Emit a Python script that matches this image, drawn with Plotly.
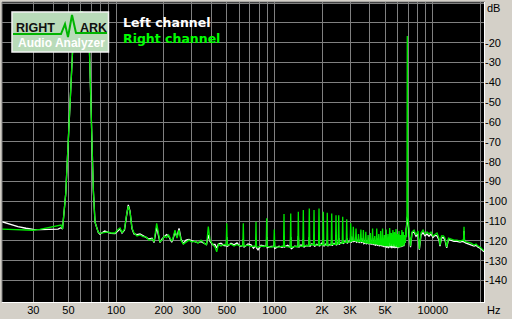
import math
import plotly.graph_objects as go

# ---------------- data ----------------
# low band: 19 Hz .. 480 Hz
freq_low = [
    19.0, 21.0, 24.0, 27.0, 30.0, 33.0, 36.0, 40.0, 43.0, 44.9,
    45.9, 48.1, 54.5, 60.0, 66.9, 71.8, 73.6, 77.2, 79.1, 84.7,
    88.9, 92.9, 98.4, 102.8, 105.8, 109.0, 113.0, 116.3, 119.4, 122.4,
    126.0, 129.7, 135.5, 141.5, 147.8, 154.5, 161.3, 168.6, 173.5, 180.4,
    185.3, 189.3, 194.9, 202.1, 208.1, 214.2, 224.4, 228.7, 235.4, 242.4,
    249.6, 256.9, 265.6, 276.3, 288.6, 301.5, 314.9, 328.9, 343.6, 358.9,
    372.2, 382.1, 391.5, 406.0, 421.1, 431.6, 443.1, 459.5, 480.0,
]
right_low = [
    -114.0, -114.2, -114.5, -114.6, -114.6, -114.2, -113.6, -112.9, -112.4, -112.0,
    -114.0, -96.0, -5.5, -4.5, -5.5, -94.0, -110.5, -115.7, -116.2, -115.5,
    -115.4, -116.0, -116.0, -114.2, -113.5, -115.8, -114.0, -107.0, -102.4, -105.4,
    -113.5, -116.0, -117.5, -117.0, -117.8, -118.0, -119.6, -119.0, -120.3, -111.1,
    -117.0, -120.4, -119.6, -117.5, -118.3, -117.0, -120.1, -118.6, -114.5, -118.6,
    -114.5, -119.6, -121.6, -120.6, -119.6, -120.6, -120.1, -121.1, -119.6, -121.1,
    -122.1, -112.8, -119.6, -121.6, -123.1, -125.5, -121.6, -122.6, -121.8,
]
left_low = [
    -110.3, -111.5, -112.8, -113.6, -114.2, -114.3, -114.3, -114.2, -114.0, -113.3,
    -114.0, -96.0, -5.5, -4.5, -5.5, -94.0, -110.5, -115.7, -116.6, -115.0,
    -115.8, -116.2, -116.3, -114.8, -114.0, -116.0, -114.5, -107.5, -101.8, -105.0,
    -113.8, -116.5, -116.8, -116.5, -117.3, -117.8, -119.0, -118.6, -120.8, -113.0,
    -118.0, -120.8, -119.0, -117.8, -116.8, -117.5, -120.6, -119.0, -115.5, -118.0,
    -113.7, -119.0, -121.3, -119.6, -119.2, -120.0, -120.6, -120.8, -120.4, -121.0,
    -121.8, -117.0, -120.3, -121.8, -121.8, -123.6, -121.5, -121.2, -122.3,
]

# mid band: harmonic needles 0.5 kHz .. 3 kHz
freq_mid = [
    495.8, 499.3, 502.8, 531.5, 555.2, 580.0, 605.8, 630.9, 635.3, 639.7,
    680.3, 710.6, 736.9, 758.9, 764.2, 769.5, 786.7, 821.8, 858.4, 886.6,
    892.8, 899.0, 950.3, 990.1, 997.0, 1004, 1068, 1115, 1140, 1148,
    1156, 1210, 1257, 1266, 1275, 1340, 1404, 1414, 1424, 1470,
    1509, 1520, 1531, 1590, 1646, 1658, 1670, 1720, 1764, 1776,
    1788, 1850, 1897, 1910, 1923, 1980, 2019, 2033, 2047, 2100,
    2139, 2154, 2169, 2230, 2281, 2297, 2313, 2375, 2428, 2445,
    2462, 2500, 2525, 2543, 2561, 2620, 2676, 2695, 2714, 2780,
    2837, 2857, 2877, 2950,
]
right_mid = [
    -122.0, -111.1, -122.2, -121.6, -122.6, -121.8, -122.6, -122.3, -111.1, -122.6,
    -122.1, -122.8, -122.6, -122.5, -110.3, -123.0, -123.1, -122.6, -122.8, -122.6,
    -108.6, -122.8, -123.1, -122.8, -114.2, -122.9, -123.1, -122.6, -122.8, -106.4,
    -122.7, -123.0, -123.2, -106.1, -123.3, -122.8, -122.9, -105.3, -122.6, -122.6,
    -122.8, -104.4, -122.5, -122.3, -122.4, -103.6, -122.0, -121.8, -122.1, -104.4,
    -122.0, -122.1, -122.2, -103.6, -121.9, -121.8, -121.9, -105.3, -122.0, -122.1,
    -122.2, -105.8, -122.0, -122.1, -121.9, -106.1, -121.7, -121.6, -121.7, -107.0,
    -121.6, -121.6, -121.5, -107.0, -121.3, -121.1, -121.0, -107.8, -120.9, -120.6,
    -120.7, -109.1, -120.6, -120.6,
]
left_mid = [
    -122.4, -118.0, -122.8, -121.2, -122.0, -121.0, -122.8, -122.3, -119.0, -123.2,
    -121.5, -122.0, -123.7, -122.5, -120.0, -123.5, -124.5, -122.2, -122.5, -122.6,
    -118.0, -123.4, -122.7, -122.8, -119.6, -123.8, -122.6, -123.2, -122.8, -118.0,
    -123.0, -122.2, -123.2, -118.0, -124.0, -122.6, -122.9, -117.5, -123.2, -122.0,
    -122.8, -119.0, -123.2, -122.3, -122.4, -118.0, -122.8, -121.5, -122.1, -119.0,
    -122.8, -121.7, -122.2, -117.8, -122.6, -121.2, -121.9, -119.0, -122.7, -121.6,
    -122.2, -119.5, -122.6, -121.8, -121.9, -119.5, -122.4, -121.2, -121.7, -119.6,
    -122.2, -121.2, -121.5, -118.6, -121.8, -120.8, -121.0, -119.6, -121.4, -120.4,
    -120.7, -118.6, -121.2, -120.2,
]

# comb band: 3 kHz .. 7.2 kHz
freq_comb = [
    3007, 3028, 3049, 3123, 3145, 3167, 3247, 3270, 3293, 3366,
    3390, 3414, 3485, 3510, 3535, 3615, 3640, 3665, 3744, 3770,
    3796, 3873, 3900, 3927, 4002, 4030, 4058, 4131, 4160, 4189,
    4260, 4290, 4320, 4389, 4420, 4451, 4518, 4550, 4582, 4647,
    4680, 4713, 4776, 4810, 4844, 4905, 4940, 4975, 5035, 5070,
    5105, 5164, 5200, 5236, 5293, 5330, 5367, 5422, 5460, 5498,
    5551, 5590, 5629, 5680, 5720, 5760, 5809, 5850, 5891, 5938,
    5980, 6022, 6067, 6110, 6153, 6196, 6240, 6284, 6325, 6370,
    6415, 6455, 6500, 6545, 6584, 6630, 6676, 6713, 6760, 6807,
    6855, 6893, 6931, 6994, 7096, 7222,
]
right_comb = [
    -120.3, -111.1, -120.2, -119.8, -112.8, -119.7, -119.9, -113.7, -120.0, -120.2,
    -116.5, -120.3, -120.1, -114.2, -120.2, -120.4, -114.5, -120.5, -120.8, -115.4,
    -120.9, -121.0, -117.0, -121.1, -121.0, -116.0, -121.1, -121.2, -113.7, -121.3,
    -121.4, -117.5, -121.5, -121.5, -113.7, -121.6, -121.7, -116.5, -121.8, -121.8,
    -115.0, -121.9, -122.0, -113.7, -122.1, -122.2, -117.0, -122.3, -122.3, -114.2,
    -122.4, -122.4, -116.5, -122.5, -122.5, -113.5, -122.6, -122.6, -116.0, -122.7,
    -122.7, -114.5, -122.8, -122.8, -115.5, -122.9, -122.9, -114.0, -123.0, -123.0,
    -116.5, -123.0, -122.9, -115.0, -122.8, -122.7, -117.0, -122.6, -122.5, -114.5,
    -122.4, -122.3, -115.5, -122.2, -122.0, -117.0, -121.0, -120.0, -113.5, -118.0,
    -106.0, -16.6, -105.4, -113.0, -116.0, -122.6,
]
left_comb = [
    -120.3, -117.6, -120.8, -119.8, -117.8, -120.3, -119.9, -118.3, -120.6, -120.2,
    -119.0, -121.0, -120.1, -118.5, -120.8, -120.4, -118.6, -121.3, -120.8, -119.6,
    -121.6, -121.0, -120.0, -121.6, -121.0, -119.5, -121.8, -121.2, -118.6, -122.0,
    -121.4, -120.2, -122.4, -121.5, -118.6, -122.4, -121.7, -120.0, -122.6, -121.8,
    -119.5, -122.6, -122.0, -118.5, -123.0, -122.2, -120.5, -123.2, -122.3, -119.6,
    -123.4, -122.4, -120.5, -123.6, -122.5, -119.5, -123.3, -122.6, -120.5, -123.6,
    -122.7, -120.0, -123.4, -122.8, -120.4, -123.6, -122.9, -119.5, -123.4, -123.0,
    -120.6, -123.6, -122.9, -120.5, -123.1, -122.7, -120.8, -123.1, -122.5, -120.0,
    -122.8, -122.3, -119.5, -122.6, -122.0, -119.0, -121.0, -118.5, -113.0, -113.5,
    -110.0, -107.8, -110.0, -113.0, -118.0, -123.2,
]

# high band: 7.4 kHz .. 21 kHz
freq_high = [
    7380, 7599, 7824, 8054, 8208, 8414, 8661, 8917, 9178, 9449,
    9727, 10014, 10310, 10614, 10926, 11086, 11331, 11665, 11922, 12219,
    12543, 13008, 13587, 14193, 14831, 15380, 15600, 15718, 15840, 16065,
    16661, 17400, 18180, 18715, 19266, 19832, 20417, 21017,
]
right_high = [
    -115.5, -114.5, -117.0, -115.0, -124.1, -116.0, -114.5, -116.5, -115.5, -116.5,
    -115.5, -117.5, -116.5, -116.0, -118.6, -122.1, -117.5, -117.5, -118.6, -123.1,
    -118.6, -119.1, -119.6, -119.6, -120.1, -119.6, -119.8, -112.8, -120.2, -120.4,
    -120.6, -121.1, -122.1, -121.6, -122.6, -123.1, -124.1, -125.0,
]
left_high = [
    -116.0, -115.5, -117.6, -116.4, -124.4, -117.0, -115.8, -117.4, -116.5, -117.6,
    -116.5, -118.2, -117.2, -117.4, -119.6, -122.6, -118.4, -118.4, -119.6, -123.5,
    -119.2, -119.8, -120.2, -120.2, -120.6, -120.2, -120.4, -115.0, -120.6, -121.0,
    -121.4, -121.8, -122.6, -122.2, -123.2, -123.6, -124.5, -125.4,
]

x_tick_vals = [30, 40, 50, 60, 70, 80, 90, 100, 200, 300, 400, 500, 600, 700, 800, 900,
               1000, 2000, 3000, 4000, 5000, 6000, 7000, 8000, 9000, 10000, 20000]
x_tick_text = ["30", "", "50", "", "", "", "", "100", "200", "300", "", "500", "", "", "", "",
               "1000", "2K", "3K", "", "5K", "", "", "", "", "10000", ""]

y_tick_vals = [0, -10, -20, -30, -40, -50, -60, -70, -80, -90, -100, -110, -120, -130, -140]
y_tick_text = ["", "", "-20", "-30", "-40", "-50", "-60", "-70", "-80", "-90", "-100",
               "-110", "-120", "-130", "-140"]

series_names = ["Left channel", "Right channel"]

freq_hz = freq_low + freq_mid + freq_comb + freq_high
left_db = left_low + left_mid + left_comb + left_high
right_db = right_low + right_mid + right_comb + right_high

# ---------------- layout geometry ----------------
W, H = 512, 319
ML, MR, MT, MB = 2, 28, 2, 17
PW, PH = W - ML - MR, H - MT - MB


def px(x):
    return (x - ML) / PW


def py(y):
    return (H - MB - y) / PH


BG = "#D4D0C8"
GRID = "#808080"
GREEN = "#00E800"

fig = go.Figure()
fig.add_trace(go.Scatter(x=freq_hz, y=left_db, mode="lines", name=series_names[0],
                         line=dict(color="#FFFFFF", width=1.3), showlegend=False))
fig.add_trace(go.Scatter(x=freq_hz, y=right_db, mode="lines", name=series_names[1],
                         line=dict(color=GREEN, width=1.3), showlegend=False))

fig.update_layout(
    width=W, height=H,
    margin=dict(l=ML, r=MR, t=MT, b=MB, pad=0),
    paper_bgcolor=BG, plot_bgcolor="#000000",
    font=dict(family="Liberation Sans", size=11, color="#000000"),
    xaxis=dict(type="log", range=[math.log10(19.04), math.log10(21017)],
               tickmode="array", tickvals=x_tick_vals, ticktext=x_tick_text,
               showgrid=True, gridcolor=GRID, gridwidth=1, zeroline=False,
               showline=False, ticks="", tickfont=dict(size=11, color="#000000")),
    yaxis=dict(range=[-150.8, 0.54], side="right",
               tickmode="array", tickvals=y_tick_vals, ticktext=y_tick_text,
               showgrid=True, gridcolor=GRID, gridwidth=1, zeroline=False,
               showline=False, ticks="", tickfont=dict(size=11, color="#000000")),
)

shapes = []
# sunken frame
shapes.append(dict(type="line", xref="paper", yref="paper", x0=px(2), x1=px(2), y0=py(2), y1=py(302),
                   line=dict(color="#808080", width=1)))
shapes.append(dict(type="line", xref="paper", yref="paper", x0=px(2), x1=px(485), y0=py(2), y1=py(2),
                   line=dict(color="#808080", width=1)))
shapes.append(dict(type="line", xref="paper", yref="paper", x0=px(484.5), x1=px(484.5), y0=py(2), y1=py(303),
                   line=dict(color="#FFFFFF", width=1)))
shapes.append(dict(type="line", xref="paper", yref="paper", x0=px(2), x1=px(485), y0=py(302.5), y1=py(302.5),
                   line=dict(color="#FFFFFF", width=1)))
# logo box
shapes.append(dict(type="rect", xref="paper", yref="paper", layer="above",
                   x0=px(12), x1=px(108.5), y0=py(12), y1=py(52),
                   fillcolor="#B9DBB9", line=dict(color="#F4F4F4", width=1.5)))
zig = [(13, 34), (61, 34), (65, 24), (68, 37), (72, 15), (76, 33), (107, 33)]
path = "M " + " L ".join(f"{px(a):.5f},{py(b):.5f}" for a, b in zig)
shapes.append(dict(type="path", xref="paper", yref="paper", layer="above", path=path,
                   line=dict(color="#00B400", width=2)))
fig.update_layout(shapes=shapes)

ann = []


def text(x, y, s, color, size, family="Liberation Sans", xanchor="left", bold=False):
    t = f"<b>{s}</b>" if bold else s
    ann.append(dict(xref="paper", yref="paper", x=px(x), y=py(y), text=t, showarrow=False,
                    xanchor=xanchor, yanchor="middle", font=dict(color=color, size=size, family=family),
                    borderpad=0))


text(15, 28, "RIGHT", "#101010", 12.5, bold=True)
text(79, 28, "ARK", "#101010", 12.5, bold=True)
text(61, 43.5, "Audio Analyzer", "#FFFFFF", 12, xanchor="center", bold=True)
text(122, 23, series_names[0], "#FFFFFF", 12.5, family="DejaVu Sans", bold=True)
text(122, 39, series_names[1], "#00FF00", 12.5, family="DejaVu Sans", bold=True)
text(486, 8, "dB", "#000000", 11)
text(486, 310, "Hz", "#000000", 11)
fig.update_layout(annotations=ann)

fig.write_html("out.html")
